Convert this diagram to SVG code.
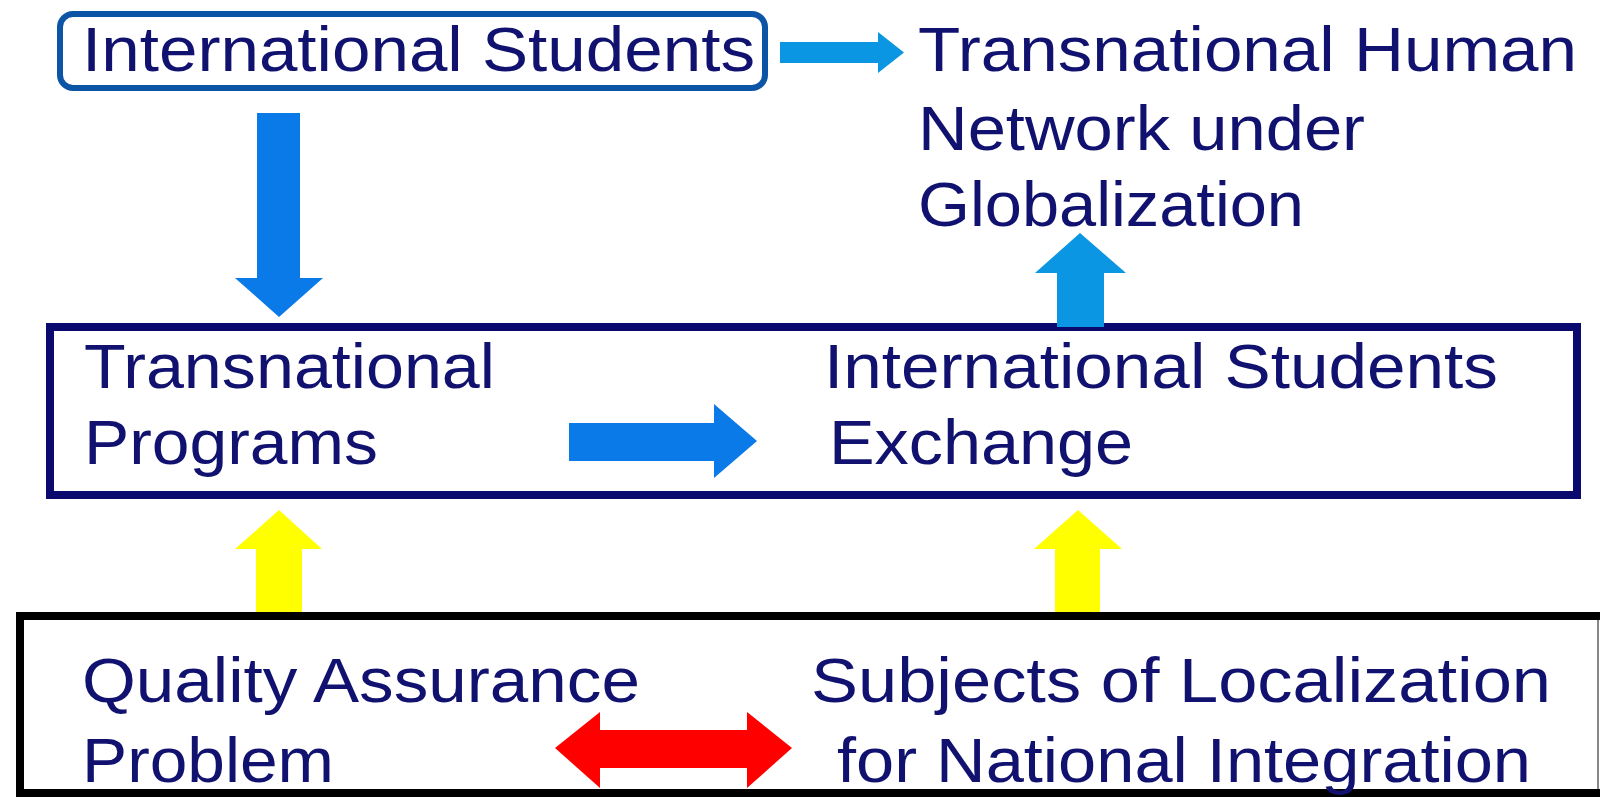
<svg xmlns="http://www.w3.org/2000/svg" width="1600" height="797" viewBox="0 0 1600 797">
<style>
text{font-family:"Liberation Sans",Arial,sans-serif;font-size:63px;fill:#111170}
.blue{fill:#0a7ae8}
.lblue{fill:#0a96e2}
.yellow{fill:#ffff00}
.red{fill:#ff0000}
</style>
<rect width="1600" height="797" fill="#ffffff"/>
<g id="international-students">
<rect x="60" y="14" width="705" height="74" rx="13" fill="#ffffff" stroke="#0c55a6" stroke-width="6"/>
<text x="82" y="71" textLength="673" lengthAdjust="spacingAndGlyphs">International Students</text>
</g>
<g id="transnational-network">
<text x="918" y="71" textLength="659" lengthAdjust="spacingAndGlyphs">Transnational Human</text>
<text x="918" y="150" textLength="447" lengthAdjust="spacingAndGlyphs">Network under</text>
<text x="918" y="226" textLength="386" lengthAdjust="spacingAndGlyphs">Globalization</text>
</g>
<g id="middle-box">
<rect x="50" y="327" width="1527" height="168" fill="none" stroke="#0a0a6e" stroke-width="8"/>
</g>
<g id="transnational-programs">
<text x="84" y="388" textLength="411" lengthAdjust="spacingAndGlyphs">Transnational</text>
<text x="84" y="464" textLength="294" lengthAdjust="spacingAndGlyphs">Programs</text>
</g>
<g id="students-exchange">
<text x="824" y="388" textLength="674" lengthAdjust="spacingAndGlyphs">International Students</text>
<text x="829" y="464" textLength="304" lengthAdjust="spacingAndGlyphs">Exchange</text>
</g>
<g id="bottom-box">
<rect x="20" y="616" width="1590" height="177" fill="none" stroke="#000000" stroke-width="8"/>
<line x1="1598" y1="620" x2="1598" y2="789" stroke="#888888" stroke-width="2"/>
</g>
<g id="quality-assurance">
<text x="82" y="702" textLength="558" lengthAdjust="spacingAndGlyphs">Quality Assurance</text>
<text x="82" y="782" textLength="252" lengthAdjust="spacingAndGlyphs">Problem</text>
</g>
<g id="localization">
<text x="811" y="702" textLength="740" lengthAdjust="spacingAndGlyphs">Subjects of Localization</text>
<text x="837" y="782" textLength="694" lengthAdjust="spacingAndGlyphs">for National Integration</text>
</g>
<g id="connectors">
<polygon class="lblue" points="780,42 878,42 878,32 904,52.5 878,73 878,63 780,63"/>
<polygon class="blue" points="257,113 300,113 300,278 323,278 279,317 235,278 257,278"/>
<polygon class="lblue" points="1057,327 1104,327 1104,273 1126,273 1080,233 1035,273 1057,273"/>
<polygon class="blue" points="569,423 714,423 714,404 757,441 714,478 714,461 569,461"/>
<polygon class="yellow" points="256,612 302,612 302,549 322,549 279,510 235,549 256,549"/>
<polygon class="yellow" points="1055,612 1100,612 1100,549 1122,549 1078,510 1034,549 1055,549"/>
<polygon class="red" points="555,748 600,712 600,730 747,730 747,712 792,748 747,788 747,768 600,768 600,788"/>
</g>
</svg>
